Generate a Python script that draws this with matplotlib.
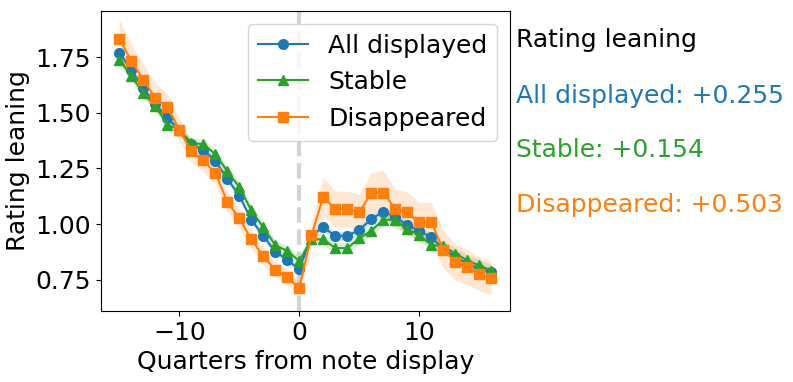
import numpy as np
import matplotlib

matplotlib.use("Agg")
import matplotlib.pyplot as plt

# quarters relative to note display
quarters = np.arange(-15, 17)

all_displayed = [1.770, 1.692, 1.610, 1.540, 1.476, 1.424, 1.358, 1.334, 1.284, 1.204,
                 1.128, 1.020, 0.948, 0.876, 0.841, 0.797, 0.948, 0.986, 0.948, 0.948,
                 0.974, 1.023, 1.056, 1.033, 0.995, 0.971, 0.941, 0.891, 0.853, 0.823,
                 0.800, 0.785]
stable = [1.737, 1.666, 1.587, 1.532, 1.446, 1.424, 1.364, 1.359, 1.314, 1.238,
          1.166, 1.062, 0.986, 0.906, 0.880, 0.835, 0.932, 0.932, 0.893, 0.893,
          0.936, 0.971, 1.020, 1.020, 0.977, 0.952, 0.906, 0.902, 0.868, 0.838,
          0.815, 0.792]
disappeared = [1.832, 1.733, 1.648, 1.566, 1.527, 1.424, 1.328, 1.286, 1.230, 1.100,
               1.027, 0.932, 0.856, 0.795, 0.762, 0.714, 0.950, 1.123, 1.068, 1.068,
               1.053, 1.141, 1.141, 1.068, 1.053, 1.008, 1.008, 0.886, 0.830, 0.808,
               0.777, 0.759]

# half-width of shaded band
all_err = [0.015, 0.015, 0.015, 0.015, 0.015, 0.015, 0.015, 0.015, 0.015, 0.015,
           0.015, 0.015, 0.015, 0.015, 0.015, 0.015, 0.018, 0.02, 0.02, 0.02,
           0.02, 0.02, 0.02, 0.02, 0.02, 0.02, 0.02, 0.02, 0.018, 0.018,
           0.018, 0.018]
stable_err = [0.022, 0.022, 0.022, 0.022, 0.022, 0.022, 0.022, 0.022, 0.022, 0.022,
              0.022, 0.022, 0.022, 0.022, 0.022, 0.022, 0.025, 0.025, 0.025, 0.025,
              0.025, 0.025, 0.025, 0.025, 0.025, 0.025, 0.025, 0.025, 0.025, 0.025,
              0.025, 0.025]
disappeared_err = [0.085, 0.075, 0.07, 0.065, 0.06, 0.05, 0.05, 0.05, 0.05, 0.045,
                   0.045, 0.04, 0.04, 0.035, 0.035, 0.03, 0.06, 0.085, 0.08, 0.08,
                   0.08, 0.09, 0.1, 0.09, 0.09, 0.09, 0.09, 0.085, 0.08, 0.08,
                   0.075, 0.075]

shifts = {"All displayed": "+0.255", "Stable": "+0.154", "Disappeared": "+0.503"}

series = [
    ("All displayed", all_displayed, all_err, "tab:blue", "o"),
    ("Stable", stable, stable_err, "tab:green", "^"),
    ("Disappeared", disappeared, disappeared_err, "tab:orange", "s"),
]

plt.rcParams["font.size"] = 18

fig = plt.figure(figsize=(7.93, 3.82), dpi=100)
ax = fig.add_axes([0.127, 0.186, 0.516, 0.785])

ax.axvline(0, color="lightgray", lw=3, ls="--", zorder=0)

for name, vals, err, color, marker in series:
    vals = np.array(vals)
    err = np.array(err)
    ax.fill_between(quarters, vals - err, vals + err, color=color, alpha=0.18, lw=0)
    ax.plot(quarters, vals, marker=marker, color=color, ms=7, lw=1.5, label=name)

ax.set_xlim(-16.55, 17.55)
ax.set_ylim(0.611, 1.956)
ax.set_yticks([0.75, 1.00, 1.25, 1.50, 1.75])
ax.set_xlabel("Quarters from note display")
ax.set_ylabel("Rating leaning")
ax.legend(loc="upper right")

# per-series summary on the right
ax.text(1.015, 0.903, "Rating leaning", transform=ax.transAxes, va="center", ha="left")
ys = [0.717, 0.537, 0.354]
for (name, vals, err, color, marker), y in zip(series, ys):
    ax.text(1.015, y, f"{name}: {shifts[name]}", transform=ax.transAxes,
            va="center", ha="left", color=color)

fig.savefig("out.png", dpi=100)
